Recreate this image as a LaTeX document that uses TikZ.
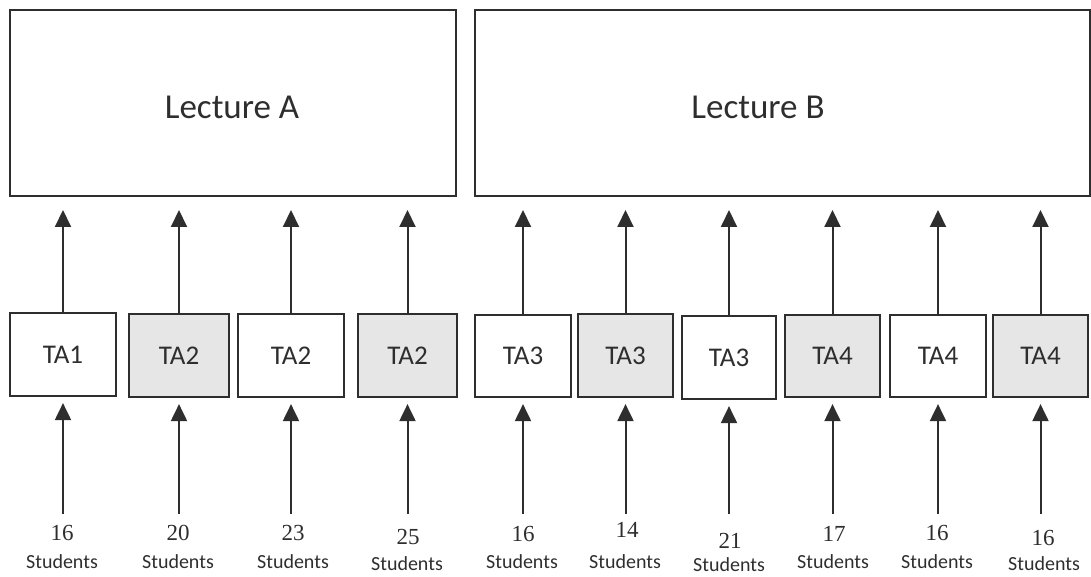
\documentclass[tikz,border=0pt]{standalone}
\usepackage{fontspec}
\setmainfont{Carlito}
\newfontfamily\numfont{Liberation Serif}
\usetikzlibrary{arrows.meta}
\definecolor{ink}{HTML}{2E2E2E}
\definecolor{shade}{HTML}{E6E6E6}
\tikzset{
  lecbox/.style={draw=ink, line width=2pt, rectangle, inner sep=0pt},
  lectext/.style={text=ink, font=\fontsize{35}{40}\selectfont, inner sep=0pt},
  tabox/.style={draw=ink, line width=2.2pt, rectangle, inner sep=0pt, text=ink,
    font=\fontsize{27}{30}\selectfont},
  tagrey/.style={tabox, fill=shade},
  link/.style={draw=ink, line width=2pt, -{Triangle[width=16pt,length=17pt]}},
  numtext/.style={text=ink, font=\numfont\fontsize{23}{26}\selectfont, inner sep=0pt},
  stutext/.style={text=ink, font=\fontsize{20}{24}\selectfont, inner sep=0pt}
}
\begin{document}
\begin{tikzpicture}[x=1pt,y=-1pt]
\useasboundingbox (0,0) rectangle (1091,577);
% lectures
\node[lecbox, minimum width=446pt, minimum height=186pt] (lecA) at (233,103) {};
\node[lecbox, minimum width=615pt, minimum height=186pt] (lecB) at (782.5,103) {};
\node[lectext] (lecAt) at (232,107) {Lecture A};
\node[lectext] (lecBt) at (758,107) {Lecture B};
% TA boxes: name, left, right, top, bottom, style, text, lecture
\foreach \n/\l/\r/\t/\b/\s/\txt/\lec in {
  1/10/116/313/396/tabox/TA1/lecA,
  2/129/229/314/397/tagrey/TA2/lecA,
  3/238/344/314/397/tabox/TA2/lecA,
  4/358/457/314/397/tagrey/TA2/lecA,
  5/475/571/315/397/tabox/TA3/lecB,
  6/578/673/314/397/tagrey/TA3/lecB,
  7/682/776/316/399/tabox/TA3/lecB,
  8/785/880/315/397/tagrey/TA4/lecB,
  9/890/986/315/397/tabox/TA4/lecB,
  10/993/1088/315/397/tagrey/TA4/lecB}{
  \node[\s, minimum width={(\r-\l)*1pt}, minimum height={(\b-\t)*1pt}]
    (ta\n) at ({(\l+\r)/2},{(\t+\b)/2}) {\txt};
  \draw[link, shorten >=13pt] (ta\n.north) -- (ta\n.north |- \lec.south);
  \coordinate (src\n) at ({(\l+\r)/2},514);
  \draw[link, shorten >=6pt] (src\n) -- (ta\n.south);
}
% student labels
\foreach \n/\nx/\ny/\sx/\sy/\v in {
  1/62/533/62/562/16,
  2/178/533/178/562/20,
  3/293/533/293/562/23,
  4/408/537/407/564/25,
  5/523/534/522/562/16,
  6/627/530/625/562/14,
  7/730/541/729/565/21,
  8/834/534/833/562/17,
  9/937/533/937/562/16,
  10/1043/538/1044/564/16}{
  \node[numtext] (num\n) at (\nx,\ny) {\v};
  \node[stutext] (stu\n) at (\sx,\sy) {Students};
}
\end{tikzpicture}
\end{document}
